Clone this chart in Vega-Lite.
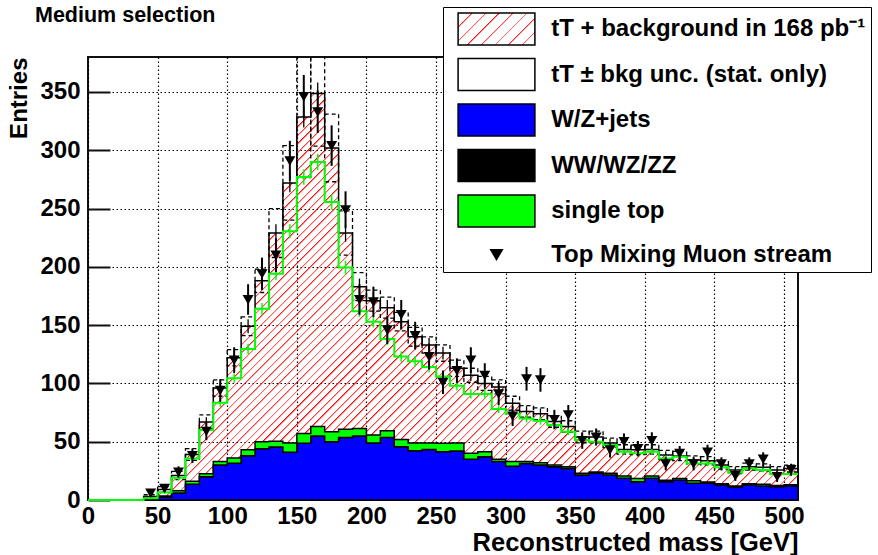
{
"$schema":"https://vega.github.io/schema/vega-lite/v6.json",
"width":710,"height":443,
"autosize":{"type":"none"},
"padding":{"left":88,"top":57,"right":80,"bottom":55},
"background":"white",
"title":{"text":"Medium selection","anchor":"start","frame":"group","dx":-53,"dy":34,"fontSize":21.5,"font":"Liberation Sans","fontWeight":"bold","color":"#000","offset":14},
"data":{"values":[
{"x":0,"g":0},
{"x":40,"x2":50,"c":45,"tot":3,"te":1,"lo":1.5,"hi":4.5,"g":1.5,"ge":0.8,"wz":0.5,"st":1,"d":6,"de":2.4},
{"x":50,"x2":60,"c":55,"tot":9,"te":1.5,"lo":6.5,"hi":11.5,"g":6.5,"ge":1.3,"wz":2.5,"st":3.5,"d":10,"de":3.2},
{"x":60,"x2":70,"c":65,"tot":21,"te":2.3,"lo":17.5,"hi":24.5,"g":19,"ge":2,"wz":6,"st":8,"d":24,"de":4.9},
{"x":70,"x2":80,"c":75,"tot":39,"te":3,"lo":34,"hi":44,"g":35.7,"ge":2.5,"wz":13.5,"st":16,"d":38,"de":6.2},
{"x":80,"x2":90,"c":85,"tot":67,"te":4,"lo":61,"hi":73,"g":60,"ge":3,"wz":20,"st":22.5,"d":59,"de":7.7},
{"x":90,"x2":100,"c":95,"tot":96,"te":5,"lo":89,"hi":103,"g":83.4,"ge":3.5,"wz":30,"st":33,"d":94,"de":9.7},
{"x":100,"x2":110,"c":105,"tot":122,"te":5.5,"lo":115,"hi":129,"g":104.5,"ge":4,"wz":31.5,"st":36,"d":120,"de":11},
{"x":110,"x2":120,"c":115,"tot":149,"te":6,"lo":141,"hi":157,"g":129.5,"ge":4.5,"wz":38,"st":43,"d":172,"de":13.1},
{"x":120,"x2":130,"c":125,"tot":188,"te":7,"lo":178,"hi":198,"g":164,"ge":5,"wz":44,"st":50,"d":194,"de":13.9},
{"x":130,"x2":140,"c":135,"tot":229,"te":7.5,"lo":208,"hi":250,"g":194,"ge":5.5,"wz":45.5,"st":50.5,"d":210,"de":14.5},
{"x":140,"x2":150,"c":145,"tot":272,"te":8,"lo":240,"hi":304,"g":230.6,"ge":6,"wz":41,"st":49,"d":291,"de":17.1},
{"x":150,"x2":160,"c":155,"tot":328.6,"te":9,"lo":276.6,"hi":380.6,"g":277,"ge":6.5,"wz":48.6,"st":57,"d":346,"de":18.6},
{"x":160,"x2":170,"c":165,"tot":348.6,"te":9.5,"lo":303.6,"hi":393.6,"g":290,"ge":7,"wz":55,"st":63,"d":333,"de":18.2},
{"x":170,"x2":180,"c":175,"tot":302,"te":8.5,"lo":273,"hi":331,"g":255.7,"ge":6.5,"wz":50,"st":58.6,"d":304,"de":17.4},
{"x":180,"x2":190,"c":185,"tot":229,"te":7.5,"lo":210,"hi":248,"g":199.4,"ge":6,"wz":53.7,"st":60.6,"d":249,"de":15.8},
{"x":190,"x2":200,"c":195,"tot":183,"te":7,"lo":171,"hi":195,"g":162,"ge":5,"wz":55,"st":61.4,"d":172,"de":13.1},
{"x":200,"x2":210,"c":205,"tot":171,"te":6.5,"lo":162,"hi":180,"g":153,"ge":5,"wz":49,"st":55.7,"d":170,"de":13},
{"x":210,"x2":220,"c":215,"tot":165,"te":6.5,"lo":156,"hi":174,"g":138,"ge":5,"wz":53.7,"st":59.4,"d":146,"de":12.1},
{"x":220,"x2":230,"c":225,"tot":153,"te":6,"lo":145,"hi":161,"g":123,"ge":4.5,"wz":45.7,"st":52,"d":159,"de":12.6},
{"x":230,"x2":240,"c":235,"tot":140,"te":6,"lo":132,"hi":148,"g":119,"ge":4.5,"wz":42.3,"st":49,"d":141,"de":11.9},
{"x":240,"x2":250,"c":245,"tot":133,"te":6,"lo":126,"hi":140,"g":114,"ge":4.5,"wz":43.4,"st":49,"d":123,"de":11.1},
{"x":250,"x2":260,"c":255,"tot":126,"te":5.5,"lo":119,"hi":133,"g":106,"ge":4,"wz":41.4,"st":48.6,"d":101,"de":10},
{"x":260,"x2":270,"c":265,"tot":113,"te":5.5,"lo":106,"hi":120,"g":98,"ge":4,"wz":42,"st":49,"d":111,"de":10.5},
{"x":270,"x2":280,"c":275,"tot":107,"te":5,"lo":101,"hi":113,"g":91,"ge":4,"wz":35,"st":40,"d":120,"de":11},
{"x":280,"x2":290,"c":285,"tot":100,"te":5,"lo":94,"hi":106,"g":91,"ge":4,"wz":37,"st":41.4,"d":107,"de":10.3},
{"x":290,"x2":300,"c":295,"tot":97,"te":5,"lo":91,"hi":103,"g":78,"ge":3.5,"wz":33,"st":35,"d":91,"de":9.5},
{"x":300,"x2":310,"c":305,"tot":83,"te":4.5,"lo":77,"hi":89,"g":74,"ge":3.5,"wz":29,"st":33,"d":72,"de":8.5},
{"x":310,"x2":320,"c":315,"tot":76,"te":4.5,"lo":71,"hi":81,"g":70,"ge":3.5,"wz":31.4,"st":33,"d":104,"de":10.2},
{"x":320,"x2":330,"c":325,"tot":74,"te":4.5,"lo":69,"hi":79,"g":68,"ge":3.5,"wz":30,"st":32,"d":103,"de":10.1},
{"x":330,"x2":340,"c":335,"tot":67.4,"te":4,"lo":62.4,"hi":72.4,"g":64.3,"ge":3,"wz":28.6,"st":30,"d":69,"de":8.3},
{"x":340,"x2":350,"c":345,"tot":63,"te":4,"lo":58,"hi":68,"g":58.6,"ge":3,"wz":27,"st":28.5,"d":73,"de":8.5},
{"x":350,"x2":360,"c":355,"tot":54,"te":3.5,"lo":49,"hi":59,"g":51.4,"ge":3,"wz":21.4,"st":23,"d":51,"de":7.1},
{"x":360,"x2":370,"c":365,"tot":54,"te":3.5,"lo":49,"hi":59,"g":50,"ge":3,"wz":22.9,"st":24,"d":54,"de":7.3},
{"x":370,"x2":380,"c":375,"tot":49,"te":3.5,"lo":45,"hi":53,"g":47.1,"ge":3,"wz":21.4,"st":23,"d":43,"de":6.6},
{"x":380,"x2":390,"c":385,"tot":43.4,"te":3.5,"lo":39.4,"hi":47.4,"g":41.4,"ge":2.5,"wz":18.6,"st":20.5,"d":50,"de":7.1},
{"x":390,"x2":400,"c":395,"tot":43,"te":3.5,"lo":39,"hi":47,"g":40,"ge":2.5,"wz":15.7,"st":18.5,"d":44,"de":6.6},
{"x":400,"x2":410,"c":405,"tot":43.4,"te":3.5,"lo":39.4,"hi":47.4,"g":41.4,"ge":2.5,"wz":18.6,"st":20.5,"d":51,"de":7.1},
{"x":410,"x2":420,"c":415,"tot":38.6,"te":3,"lo":34.6,"hi":42.6,"g":35.7,"ge":2.5,"wz":15.7,"st":17,"d":31,"de":5.6},
{"x":420,"x2":430,"c":425,"tot":37.7,"te":3,"lo":33.7,"hi":41.7,"g":37.1,"ge":2.5,"wz":17,"st":18.5,"d":40,"de":6.3},
{"x":430,"x2":440,"c":435,"tot":34.3,"te":3,"lo":30.8,"hi":37.8,"g":31.4,"ge":2.5,"wz":14.3,"st":16.5,"d":31,"de":5.6},
{"x":440,"x2":450,"c":445,"tot":33.7,"te":3,"lo":30.2,"hi":37.2,"g":31.4,"ge":2.5,"wz":14.3,"st":15.5,"d":41,"de":6.4},
{"x":450,"x2":460,"c":455,"tot":30,"te":3,"lo":26.5,"hi":33.5,"g":28,"ge":2.5,"wz":13,"st":14,"d":31,"de":5.6},
{"x":460,"x2":470,"c":465,"tot":25.7,"te":2.5,"lo":22.7,"hi":28.7,"g":23.4,"ge":2,"wz":11,"st":12,"d":21,"de":4.6},
{"x":470,"x2":480,"c":475,"tot":28.6,"te":2.5,"lo":25.6,"hi":31.6,"g":27.1,"ge":2,"wz":13,"st":14,"d":31,"de":5.6},
{"x":480,"x2":490,"c":485,"tot":28,"te":2.5,"lo":25,"hi":31,"g":25.7,"ge":2,"wz":12,"st":13.5,"d":35,"de":5.9},
{"x":490,"x2":500,"c":495,"tot":25.7,"te":2.5,"lo":22.7,"hi":28.7,"g":22.3,"ge":2,"wz":11.4,"st":12.5,"d":20,"de":4.5},
{"x":500,"x2":510,"c":505,"tot":27,"te":2.5,"lo":24,"hi":30,"g":22.3,"ge":2,"wz":12,"st":13,"d":26,"de":5.1},
{"x":510,"tot":27,"g":22.3,"wz":12,"st":13}
]},
"layer":[
{"transform":[{"filter":"datum.tot != null"}],
 "mark":{"type":"area","interpolate":"step-after","stroke":"#000","strokeWidth":1.5,"fill":{"gradient":"linear","x1":0,"y1":0,"x2":1.1698,"y2":0.7266,"stops":[
{"offset":0,"color":"#f000"},
{"offset":0.12,"color":"red"},{"offset":0.1222,"color":"#f000"},{"offset":0.128,"color":"#f000"},
{"offset":0.128,"color":"red"},{"offset":0.1302,"color":"#f000"},{"offset":0.136,"color":"#f000"},
{"offset":0.136,"color":"red"},{"offset":0.1382,"color":"#f000"},{"offset":0.144,"color":"#f000"},
{"offset":0.144,"color":"red"},{"offset":0.1462,"color":"#f000"},{"offset":0.152,"color":"#f000"},
{"offset":0.152,"color":"red"},{"offset":0.1542,"color":"#f000"},{"offset":0.16,"color":"#f000"},
{"offset":0.16,"color":"red"},{"offset":0.1622,"color":"#f000"},{"offset":0.168,"color":"#f000"},
{"offset":0.168,"color":"red"},{"offset":0.1702,"color":"#f000"},{"offset":0.176,"color":"#f000"},
{"offset":0.176,"color":"red"},{"offset":0.1782,"color":"#f000"},{"offset":0.184,"color":"#f000"},
{"offset":0.184,"color":"red"},{"offset":0.1862,"color":"#f000"},{"offset":0.192,"color":"#f000"},
{"offset":0.192,"color":"red"},{"offset":0.1942,"color":"#f000"},{"offset":0.2,"color":"#f000"},
{"offset":0.2,"color":"red"},{"offset":0.2022,"color":"#f000"},{"offset":0.208,"color":"#f000"},
{"offset":0.208,"color":"red"},{"offset":0.2102,"color":"#f000"},{"offset":0.216,"color":"#f000"},
{"offset":0.216,"color":"red"},{"offset":0.2182,"color":"#f000"},{"offset":0.224,"color":"#f000"},
{"offset":0.224,"color":"red"},{"offset":0.2262,"color":"#f000"},{"offset":0.232,"color":"#f000"},
{"offset":0.232,"color":"red"},{"offset":0.2342,"color":"#f000"},{"offset":0.24,"color":"#f000"},
{"offset":0.24,"color":"red"},{"offset":0.2422,"color":"#f000"},{"offset":0.248,"color":"#f000"},
{"offset":0.248,"color":"red"},{"offset":0.2502,"color":"#f000"},{"offset":0.256,"color":"#f000"},
{"offset":0.256,"color":"red"},{"offset":0.2582,"color":"#f000"},{"offset":0.264,"color":"#f000"},
{"offset":0.264,"color":"red"},{"offset":0.2662,"color":"#f000"},{"offset":0.272,"color":"#f000"},
{"offset":0.272,"color":"red"},{"offset":0.2742,"color":"#f000"},{"offset":0.28,"color":"#f000"},
{"offset":0.28,"color":"red"},{"offset":0.2822,"color":"#f000"},{"offset":0.288,"color":"#f000"},
{"offset":0.288,"color":"red"},{"offset":0.2902,"color":"#f000"},{"offset":0.296,"color":"#f000"},
{"offset":0.296,"color":"red"},{"offset":0.2982,"color":"#f000"},{"offset":0.304,"color":"#f000"},
{"offset":0.304,"color":"red"},{"offset":0.3062,"color":"#f000"},{"offset":0.312,"color":"#f000"},
{"offset":0.312,"color":"red"},{"offset":0.3142,"color":"#f000"},{"offset":0.32,"color":"#f000"},
{"offset":0.32,"color":"red"},{"offset":0.3222,"color":"#f000"},{"offset":0.328,"color":"#f000"},
{"offset":0.328,"color":"red"},{"offset":0.3302,"color":"#f000"},{"offset":0.336,"color":"#f000"},
{"offset":0.336,"color":"red"},{"offset":0.3382,"color":"#f000"},{"offset":0.344,"color":"#f000"},
{"offset":0.344,"color":"red"},{"offset":0.3462,"color":"#f000"},{"offset":0.352,"color":"#f000"},
{"offset":0.352,"color":"red"},{"offset":0.3542,"color":"#f000"},{"offset":0.36,"color":"#f000"},
{"offset":0.36,"color":"red"},{"offset":0.3622,"color":"#f000"},{"offset":0.368,"color":"#f000"},
{"offset":0.368,"color":"red"},{"offset":0.3702,"color":"#f000"},{"offset":0.376,"color":"#f000"},
{"offset":0.376,"color":"red"},{"offset":0.3782,"color":"#f000"},{"offset":0.384,"color":"#f000"},
{"offset":0.384,"color":"red"},{"offset":0.3862,"color":"#f000"},{"offset":0.392,"color":"#f000"},
{"offset":0.392,"color":"red"},{"offset":0.3942,"color":"#f000"},{"offset":0.4,"color":"#f000"},
{"offset":0.4,"color":"red"},{"offset":0.4022,"color":"#f000"},{"offset":0.408,"color":"#f000"},
{"offset":0.408,"color":"red"},{"offset":0.4102,"color":"#f000"},{"offset":0.416,"color":"#f000"},
{"offset":0.416,"color":"red"},{"offset":0.4182,"color":"#f000"},{"offset":0.424,"color":"#f000"},
{"offset":0.424,"color":"red"},{"offset":0.4262,"color":"#f000"},{"offset":0.432,"color":"#f000"},
{"offset":0.432,"color":"red"},{"offset":0.4342,"color":"#f000"},{"offset":0.44,"color":"#f000"},
{"offset":0.44,"color":"red"},{"offset":0.4422,"color":"#f000"},{"offset":0.448,"color":"#f000"},
{"offset":0.448,"color":"red"},{"offset":0.4502,"color":"#f000"},{"offset":0.456,"color":"#f000"},
{"offset":0.456,"color":"red"},{"offset":0.4582,"color":"#f000"},{"offset":0.464,"color":"#f000"},
{"offset":0.464,"color":"red"},{"offset":0.4662,"color":"#f000"},{"offset":0.472,"color":"#f000"},
{"offset":0.472,"color":"red"},{"offset":0.4742,"color":"#f000"},{"offset":0.48,"color":"#f000"},
{"offset":0.48,"color":"red"},{"offset":0.4822,"color":"#f000"},{"offset":0.488,"color":"#f000"},
{"offset":0.488,"color":"red"},{"offset":0.4902,"color":"#f000"},{"offset":0.496,"color":"#f000"},
{"offset":0.496,"color":"red"},{"offset":0.4982,"color":"#f000"},{"offset":0.504,"color":"#f000"},
{"offset":0.504,"color":"red"},{"offset":0.5062,"color":"#f000"},{"offset":0.512,"color":"#f000"},
{"offset":0.512,"color":"red"},{"offset":0.5142,"color":"#f000"},{"offset":0.52,"color":"#f000"},
{"offset":0.52,"color":"red"},{"offset":0.5222,"color":"#f000"},{"offset":0.528,"color":"#f000"},
{"offset":0.528,"color":"red"},{"offset":0.5302,"color":"#f000"},{"offset":0.536,"color":"#f000"},
{"offset":0.536,"color":"red"},{"offset":0.5382,"color":"#f000"},{"offset":0.544,"color":"#f000"},
{"offset":0.544,"color":"red"},{"offset":0.5462,"color":"#f000"},{"offset":0.552,"color":"#f000"},
{"offset":0.552,"color":"red"},{"offset":0.5542,"color":"#f000"},{"offset":0.56,"color":"#f000"},
{"offset":0.56,"color":"red"},{"offset":0.5622,"color":"#f000"},{"offset":0.568,"color":"#f000"},
{"offset":0.568,"color":"red"},{"offset":0.5702,"color":"#f000"},{"offset":0.576,"color":"#f000"},
{"offset":0.576,"color":"red"},{"offset":0.5782,"color":"#f000"},{"offset":0.584,"color":"#f000"},
{"offset":0.584,"color":"red"},{"offset":0.5862,"color":"#f000"},{"offset":0.592,"color":"#f000"},
{"offset":0.592,"color":"red"},{"offset":0.5942,"color":"#f000"},{"offset":0.6,"color":"#f000"},
{"offset":0.6,"color":"red"},{"offset":0.6022,"color":"#f000"},{"offset":0.608,"color":"#f000"},
{"offset":0.608,"color":"red"},{"offset":0.6102,"color":"#f000"},{"offset":0.616,"color":"#f000"},
{"offset":0.616,"color":"red"},{"offset":0.6182,"color":"#f000"},{"offset":0.624,"color":"#f000"},
{"offset":0.624,"color":"red"},{"offset":0.6262,"color":"#f000"},{"offset":0.632,"color":"#f000"},
{"offset":0.632,"color":"red"},{"offset":0.6342,"color":"#f000"},{"offset":0.64,"color":"#f000"},
{"offset":0.64,"color":"red"},{"offset":0.6422,"color":"#f000"},{"offset":0.648,"color":"#f000"},
{"offset":0.648,"color":"red"},{"offset":0.6502,"color":"#f000"},{"offset":0.656,"color":"#f000"},
{"offset":0.656,"color":"red"},{"offset":0.6582,"color":"#f000"},{"offset":0.664,"color":"#f000"},
{"offset":0.664,"color":"red"},{"offset":0.6662,"color":"#f000"},{"offset":0.672,"color":"#f000"},
{"offset":0.672,"color":"red"},{"offset":0.6742,"color":"#f000"},{"offset":0.68,"color":"#f000"},
{"offset":0.68,"color":"red"},{"offset":0.6822,"color":"#f000"},{"offset":0.688,"color":"#f000"},
{"offset":0.688,"color":"red"},{"offset":0.6902,"color":"#f000"},{"offset":0.696,"color":"#f000"},
{"offset":0.696,"color":"red"},{"offset":0.6982,"color":"#f000"},{"offset":0.704,"color":"#f000"},
{"offset":0.704,"color":"red"},{"offset":0.7062,"color":"#f000"},{"offset":0.712,"color":"#f000"},
{"offset":0.712,"color":"red"},{"offset":0.7142,"color":"#f000"},{"offset":0.72,"color":"#f000"},
{"offset":0.72,"color":"red"},{"offset":0.7222,"color":"#f000"},{"offset":0.728,"color":"#f000"},
{"offset":0.728,"color":"red"},{"offset":0.7302,"color":"#f000"},{"offset":0.736,"color":"#f000"},
{"offset":0.736,"color":"red"},{"offset":0.7382,"color":"#f000"},{"offset":0.744,"color":"#f000"},
{"offset":0.744,"color":"red"},{"offset":0.7462,"color":"#f000"},{"offset":0.752,"color":"#f000"},
{"offset":0.752,"color":"red"},{"offset":0.7542,"color":"#f000"},{"offset":0.76,"color":"#f000"},
{"offset":0.76,"color":"red"},{"offset":0.7622,"color":"#f000"},{"offset":0.768,"color":"#f000"},
{"offset":0.768,"color":"red"},{"offset":0.7702,"color":"#f000"},{"offset":0.776,"color":"#f000"},
{"offset":0.776,"color":"red"},{"offset":0.7782,"color":"#f000"},{"offset":0.784,"color":"#f000"},
{"offset":0.784,"color":"red"},{"offset":0.7862,"color":"#f000"},{"offset":0.792,"color":"#f000"},
{"offset":0.792,"color":"red"},{"offset":0.7942,"color":"#f000"},{"offset":0.8,"color":"#f000"},
{"offset":0.8,"color":"red"},{"offset":0.8022,"color":"#f000"},{"offset":0.808,"color":"#f000"},
{"offset":0.808,"color":"red"},{"offset":0.8102,"color":"#f000"},{"offset":0.816,"color":"#f000"},
{"offset":0.816,"color":"red"},{"offset":0.8182,"color":"#f000"},{"offset":0.824,"color":"#f000"},
{"offset":0.824,"color":"red"},{"offset":0.8262,"color":"#f000"},{"offset":0.832,"color":"#f000"},
{"offset":0.832,"color":"red"},{"offset":0.8342,"color":"#f000"},{"offset":0.84,"color":"#f000"},
{"offset":0.84,"color":"red"},{"offset":0.8422,"color":"#f000"},{"offset":0.848,"color":"#f000"},
{"offset":0.848,"color":"red"},{"offset":0.8502,"color":"#f000"},{"offset":0.856,"color":"#f000"},
{"offset":0.856,"color":"red"},{"offset":0.8582,"color":"#f000"},{"offset":0.864,"color":"#f000"},
{"offset":0.864,"color":"red"},{"offset":0.8662,"color":"#f000"},{"offset":0.872,"color":"#f000"},
{"offset":0.872,"color":"red"},{"offset":0.8742,"color":"#f000"},{"offset":0.88,"color":"#f000"},
{"offset":0.88,"color":"red"},{"offset":0.8822,"color":"#f000"},{"offset":0.888,"color":"#f000"},
{"offset":0.888,"color":"red"},{"offset":0.8902,"color":"#f000"},{"offset":0.896,"color":"#f000"},
{"offset":0.896,"color":"red"},{"offset":0.8982,"color":"#f000"},{"offset":0.904,"color":"#f000"},
{"offset":0.904,"color":"red"},{"offset":0.9062,"color":"#f000"},{"offset":0.912,"color":"#f000"},
{"offset":0.912,"color":"red"},{"offset":0.9142,"color":"#f000"},{"offset":0.92,"color":"#f000"},
{"offset":0.92,"color":"red"},{"offset":0.9222,"color":"#f000"},{"offset":0.928,"color":"#f000"},
{"offset":0.928,"color":"red"},{"offset":0.9302,"color":"#f000"},{"offset":0.936,"color":"#f000"},
{"offset":0.936,"color":"red"},{"offset":0.9382,"color":"#f000"},{"offset":0.944,"color":"#f000"},
{"offset":0.944,"color":"red"},{"offset":0.9462,"color":"#f000"},{"offset":0.952,"color":"#f000"},
{"offset":0.952,"color":"red"},{"offset":0.9542,"color":"#f000"},{"offset":0.96,"color":"#f000"},
{"offset":0.96,"color":"red"},{"offset":0.9622,"color":"#f000"},{"offset":0.968,"color":"#f000"},
{"offset":0.968,"color":"red"},{"offset":0.9702,"color":"#f000"},{"offset":0.976,"color":"#f000"},
{"offset":0.976,"color":"red"},{"offset":0.9782,"color":"#f000"},{"offset":0.984,"color":"#f000"},
{"offset":0.984,"color":"red"},{"offset":0.9862,"color":"#f000"},{"offset":0.992,"color":"#f000"},
{"offset":0.992,"color":"red"},{"offset":0.9942,"color":"#f000"},{"offset":1,"color":"#f000"}
]}},
 "encoding":{
  "x":{"field":"x","type":"quantitative","scale":{"domain":[0,510],"nice":false,"zero":false},"axis":{"title":"Reconstructed mass [GeV]","values":[0,50,100,150,200,250,300,350,400,450,500]}},
  "y":{"field":"tot","type":"quantitative","stack":null,"scale":{"domain":[0,380],"nice":false},"axis":{"title":"Entries","values":[0,50,100,150,200,250,300,350]}}
 }},
{"transform":[{"filter":"datum.wz != null"}],
 "mark":{"type":"area","interpolate":"step-after","stroke":"#000","strokeWidth":1.5,"opacity":1},
 "encoding":{
  "x":{"field":"x","type":"quantitative"},
  "y":{"field":"wz","type":"quantitative","stack":null,"title":"Entries"},
  "fill":{"datum":"W/Z+jets","type":"nominal",
   "scale":{"domain":["tT + background in 168 pb⁻¹","tT ± bkg unc. (stat. only)","W/Z+jets","WW/WZ/ZZ","single top","Top Mixing Muon stream"],
    "range":[{"expr":"{gradient:'linear',x1:0,y1:0,x2:1.2071,y2:0.503,stops:[{offset:0,color:'red'},{offset:0.018,color:'#f000'},{offset:0.125,color:'#f000'},{offset:0.125,color:'red'},{offset:0.143,color:'#f000'},{offset:0.25,color:'#f000'},{offset:0.25,color:'red'},{offset:0.268,color:'#f000'},{offset:0.375,color:'#f000'},{offset:0.375,color:'red'},{offset:0.393,color:'#f000'},{offset:0.5,color:'#f000'},{offset:0.5,color:'red'},{offset:0.518,color:'#f000'},{offset:0.625,color:'#f000'},{offset:0.625,color:'red'},{offset:0.643,color:'#f000'},{offset:0.75,color:'#f000'},{offset:0.75,color:'red'},{offset:0.768,color:'#f000'},{offset:0.875,color:'#f000'},{offset:0.875,color:'red'},{offset:0.893,color:'#f000'},{offset:1,color:'#f000'}]}"},
     "transparent","#0000ff","#000000","#00ff00","#000000"]},
   "legend":{"title":null,"orient":"none","legendX":355,"legendY":-50,"direction":"vertical","fillColor":"#fff","strokeColor":"#000","padding":5,
    "symbolType":"M-2.4,-1H2.4V1H-2.4Z","symbolSize":1024,"symbolStrokeWidth":1.5,"symbolStrokeColor":"#000","symbolOffset":31.5,"labelOffset":37.7,"rowPadding":7.5,
    "labelFont":"Liberation Sans","labelFontSize":24,"labelFontWeight":"bold","labelColor":"#000","labelLimit":0,"zindex":1}
 }}},
{"transform":[{"filter":"datum.wz != null"}],
 "mark":{"type":"area","interpolate":"step-after","stroke":"#000","strokeWidth":1.5,"opacity":1},
 "encoding":{
  "x":{"field":"x","type":"quantitative"},
  "y":{"field":"st","type":"quantitative","title":"Entries"},
  "y2":{"field":"wz"},
  "fill":{"datum":"single top","type":"nominal"}
 }},
{"transform":[{"filter":"datum.c != null"}],
 "mark":{"type":"rect","filled":false,"color":"#000","strokeDash":[4,3],"strokeWidth":1.3,"clip":true},
 "encoding":{
  "x":{"field":"x","type":"quantitative"},"x2":{"field":"x2"},
  "y":{"field":"lo","type":"quantitative","title":"Entries"},"y2":{"field":"hi"}
 }},
{"transform":[{"filter":"datum.c != null"}],
 "mark":{"type":"errorbar","color":"#000","thickness":1.3},
 "encoding":{
  "x":{"field":"c","type":"quantitative"},
  "y":{"field":"tot","type":"quantitative","title":"Entries"},
  "yError":{"field":"te"}
 }},
{"transform":[{"filter":"datum.g != null"}],
 "mark":{"type":"line","interpolate":"step-after","color":"#00ff00","strokeWidth":2},
 "encoding":{
  "x":{"field":"x","type":"quantitative"},
  "y":{"field":"g","type":"quantitative","title":"Entries"}
 }},
{"transform":[{"filter":"datum.c != null"}],
 "mark":{"type":"errorbar","color":"#00ff00","thickness":1.5},
 "encoding":{
  "x":{"field":"c","type":"quantitative"},
  "y":{"field":"g","type":"quantitative","title":"Entries"},
  "yError":{"field":"ge"}
 }},
{"transform":[{"filter":"datum.d != null"}],
 "mark":{"type":"errorbar","color":"#000","thickness":2},
 "encoding":{
  "x":{"field":"c","type":"quantitative"},
  "y":{"field":"d","type":"quantitative","title":"Entries"},
  "yError":{"field":"de"}
 }},
{"transform":[{"filter":"datum.d != null"}],
 "mark":{"type":"point","filled":true,"size":936,"opacity":1,"strokeWidth":0},
 "encoding":{
  "x":{"field":"c","type":"quantitative"},
  "y":{"field":"d","type":"quantitative","title":"Entries"},
  "fill":{"datum":"Top Mixing Muon stream","type":"nominal"},
  "shape":{"datum":"Top Mixing Muon stream","type":"nominal",
   "scale":{"domain":["tT + background in 168 pb⁻¹","tT ± bkg unc. (stat. only)","W/Z+jets","WW/WZ/ZZ","single top","Top Mixing Muon stream"],
    "range":["M-2.4,-1H2.4V1H-2.4Z","M-2.4,-1H2.4V1H-2.4Z","M-2.4,-1H2.4V1H-2.4Z","M-2.4,-1H2.4V1H-2.4Z","M-2.4,-1H2.4V1H-2.4Z","M-0.36,-0.3L0.36,-0.3L0,0.32Z"]}}
 }}
],
"config":{
 "font":"Liberation Sans",
 "view":{"stroke":"#111","strokeWidth":2},
 "axis":{"labelFont":"Liberation Sans","labelFontSize":24,"labelFontWeight":"bold","labelColor":"#000","titleFont":"Liberation Sans","titleFontSize":24,"titleFontWeight":"bold","titleColor":"#000","grid":true,"gridColor":"#000","gridDash":[1.5,2.5],"gridWidth":1.2,"gridOpacity":1,"domain":false,"labelFlush":false,"labelOverlap":false},
 "axisX":{"ticks":false,"labelPadding":4,"titleAnchor":"end","titlePadding":2,"titleFontSize":25.5},
 "axisY":{"tickSize":-22,"tickColor":"#111","tickWidth":2,"labelPadding":30,"titleAnchor":"end","titlePadding":8}
}
}
